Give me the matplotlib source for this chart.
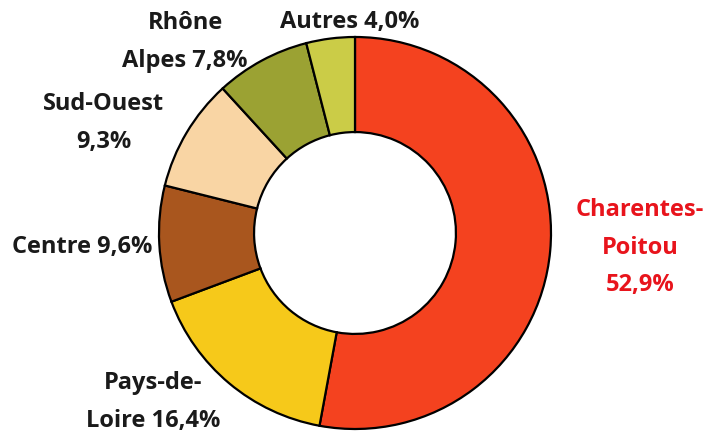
import matplotlib
matplotlib.use("Agg")
import matplotlib.pyplot as plt

regions = ["Charentes-Poitou", "Pays-de-Loire", "Centre", "Sud-Ouest", "Rhône Alpes", "Autres"]
shares = [52.9, 16.4, 9.6, 9.3, 7.8, 4.0]
label_texts = ["Charentes-\nPoitou\n52,9%", "Pays-de-\nLoire 16,4%", "Centre 9,6%",
               "Sud-Ouest\n9,3%", "Rhône\nAlpes 7,8%", "Autres 4,0%"]
colors = ["#F4421F", "#F6C91A", "#A9561E", "#F9D5A4", "#9BA233", "#CBCC47"]
label_colors = ["#E8141C", "#1a1a1a", "#1a1a1a", "#1a1a1a", "#1a1a1a", "#1a1a1a"]
# label centre positions in pixels (x, y from top)
label_pos = [(640, 248), (153, 402), (82, 247), (104, 123), (185, 42), (350, 22)]

W, H = 725, 437
fig = plt.figure(figsize=(W / 100, H / 100), dpi=100)
cx, cy, R = 355, 233, 196
ax = fig.add_axes([(cx - R) / W, (H - cy - R) / H, 2 * R / W, 2 * R / H])
ax.pie(shares, colors=colors, startangle=90, counterclock=False, radius=1.0,
       wedgeprops=dict(width=0.485, edgecolor="black", linewidth=1.6))
ax.set_xlim(-1, 1)
ax.set_ylim(-1, 1)
ax.set_aspect("equal")
ax.axis("off")

for txt, col, (px, py) in zip(label_texts, label_colors, label_pos):
    fig.text(px / W, 1 - py / H, txt, ha="center", va="center", color=col,
             fontsize=17, fontweight="bold", family=["Open Sans", "DejaVu Sans"],
             linespacing=1.75)

fig.savefig("out.png", dpi=100)
